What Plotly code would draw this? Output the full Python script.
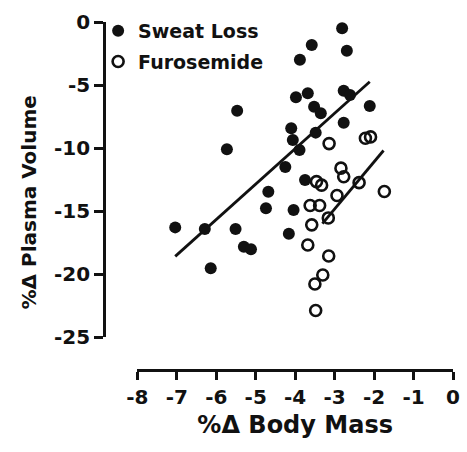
import plotly.graph_objects as go

# Sweat loss (filled circles)
sweat_x = [-2.81, -3.58, -2.69, -3.88, -3.68, -3.98, -2.77, -2.61, -2.11, -5.47,
           -3.52, -3.35, -2.77, -4.10, -3.48, -4.06, -3.89, -5.73, -4.25, -3.75,
           -4.68, -4.74, -4.04, -7.04, -6.29, -5.51, -5.30, -5.12, -4.16, -6.14]
sweat_y = [-0.5, -1.83, -2.28, -3.0, -5.66, -5.98, -5.45, -5.8, -6.67, -7.04,
           -6.72, -7.25, -7.99, -8.44, -8.78, -9.37, -10.16, -10.1, -11.5, -12.54,
           -13.47, -14.79, -14.92, -16.3, -16.43, -16.43, -17.83, -18.04, -16.8, -19.55]

# Furosemide (open circles)
furo_x = [-3.14, -2.09, -2.22, -2.84, -2.77, -3.46, -3.33, -2.38, -1.74, -2.94,
          -3.62, -3.38, -3.16, -3.58, -3.68, -3.15, -3.30, -3.50, -3.48]
furo_y = [-9.65, -9.12, -9.23, -11.6, -12.28, -12.67, -12.95, -12.75, -13.45, -13.77,
          -14.56, -14.56, -15.55, -16.1, -17.7, -18.57, -20.08, -20.79, -22.9]

# Regression line endpoints
sweat_fit_x = [-7.04, -2.11]
sweat_fit_y = [-18.6, -4.74]
furo_fit_x = [-3.31, -1.76]
furo_fit_y = [-16.0, -10.2]

x_ticks = [-8, -7, -6, -5, -4, -3, -2, -1, 0]
y_ticks = [0, -5, -10, -15, -20, -25]

INK = "#111111"
FONT = "DejaVu Sans"

fig = go.Figure()
fig.add_trace(go.Scatter(x=sweat_fit_x, y=sweat_fit_y, mode="lines",
                         line=dict(color=INK, width=2.8), showlegend=False,
                         hoverinfo="skip"))
fig.add_trace(go.Scatter(x=furo_fit_x, y=furo_fit_y, mode="lines",
                         line=dict(color=INK, width=2.8), showlegend=False,
                         hoverinfo="skip"))
fig.add_trace(go.Scatter(x=sweat_x, y=sweat_y, mode="markers", name="Sweat Loss",
                         legendgroup="a",
                         marker=dict(symbol="circle", size=12, color=INK,
                                     line=dict(width=0))))
fig.add_trace(go.Scatter(x=furo_x, y=furo_y, mode="markers", name="Furosemide",
                         legendgroup="b",
                         marker=dict(symbol="circle-open", size=11, color=INK,
                                     line=dict(width=2.6, color=INK))))

L, R, T, B = 104, 7, 22, 82
W, H = 467, 452
pw = W - L - R
ph = H - T - B

fig.update_layout(
    width=W, height=H,
    margin=dict(l=L, r=R, t=T, b=B, pad=0),
    paper_bgcolor="white", plot_bgcolor="white",
    font=dict(family=FONT, color=INK, size=19, weight="bold"),
    showlegend=True,
    legend=dict(x=(98 - L) / pw, y=1 + 10 / ph, xanchor="left", yanchor="top",
                bgcolor="rgba(0,0,0,0)", font=dict(size=19, family=FONT, weight="bold"),
                tracegroupgap=3, itemwidth=30),
    xaxis=dict(range=[-8, 0], domain=[(138 - L) / pw, 1], anchor="free", position=0,
               tickvals=x_ticks, ticktext=[str(v) for v in x_ticks],
               showline=True, linecolor=INK, linewidth=2.6,
               ticks="outside", ticklen=8, tickwidth=2.6, tickcolor=INK,
               showgrid=False, zeroline=False,
               tickfont=dict(size=20, family=FONT, weight="bold"),
               title=dict(text="%\u0394 Body Mass", standoff=8,
                          font=dict(size=24, family=FONT, weight="bold"))),
    yaxis=dict(range=[-25, 0], domain=[(H - B - 337) / ph, 1], anchor="free", position=0,
               tickvals=y_ticks, ticktext=[str(v) for v in y_ticks],
               showline=True, linecolor=INK, linewidth=2.6,
               ticks="outside", ticklen=9, tickwidth=2.6, tickcolor=INK,
               showgrid=False, zeroline=False,
               tickfont=dict(size=20, family=FONT, weight="bold")),
    annotations=[dict(text="%\u0394 Plasma Volume", textangle=-90,
                      xref="paper", yref="paper",
                      x=(28 - L) / pw, y=(H - B - 202) / ph,
                      xanchor="center", yanchor="middle", showarrow=False,
                      font=dict(size=20, family=FONT, weight="bold", color=INK))],
)

fig.write_html("out.html",
               config={"displayModeBar": False},
               post_script="document.body.style.margin='0';document.body.style.overflow='hidden';")
